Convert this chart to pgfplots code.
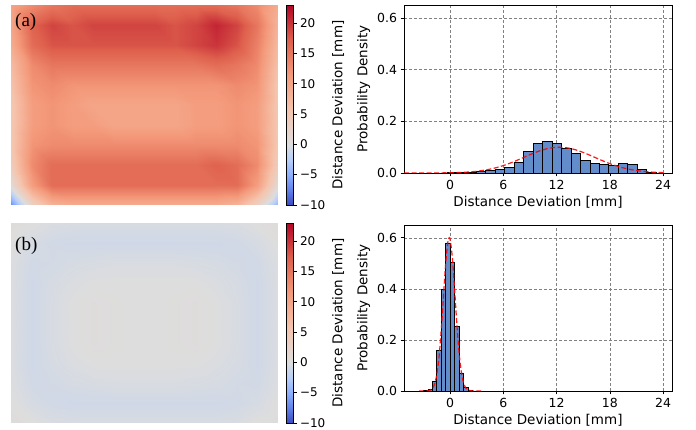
\documentclass[border=0pt]{standalone}
\usepackage{fontspec}
\usepackage{pgfplots}
\pgfplotsset{compat=1.18}
\newfontfamily\dejavu{DejaVu Sans}
\newfontfamily\tnr{Liberation Serif}
\definecolor{barblue}{RGB}{99,141,202}

\pgfplotsset{
  colormap={cw}{rgb255(0pt)=(59,76,192) rgb255(10pt)=(98,130,234) rgb255(20pt)=(141,176,254)
    rgb255(30pt)=(184,208,249) rgb255(40pt)=(221,221,221) rgb255(63pt)=(245,196,173)
    rgb255(86pt)=(244,154,123) rgb255(109pt)=(222,96,77) rgb255(132pt)=(180,4,38)},
  heat/.style={
    scale only axis, width=267pt, height=200pt, anchor=south west,
    view={0}{90}, xmin=0, xmax=13, ymin=0, ymax=10, hide axis,
    colormap name=cw, point meta min=-10, point meta max=23,
    colorbar, colorbar shift/.style={xshift=8pt},
    colorbar style={
      at={(parent axis.north east)}, anchor=north west,
      scale only axis, width=7pt, height=200pt,
      ytick={-10,-5,0,5,10,15,20},
      yticklabels={−10,−5,0,5,10,15,20},
      ytick pos=right, yticklabel pos=right,
      tick align=outside, major tick length=3.5pt,
      tick style={black, line width=0.6pt},
      yticklabel style={font=\dejavu\fontsize{12}{12}\selectfont},
      ylabel={Distance Deviation [mm]},
      ylabel style={font=\dejavu\fontsize{13.5}{13.5}\selectfont},
      axis line style={line width=0.6pt},
    },
  },
  hist/.style={
    scale only axis, width=268pt, anchor=south west,
    xmin=-5.2, xmax=25, ymin=0, ymax=0.65,
    xtick={0,6,12,18,24}, ytick={0,0.2,0.4,0.6},
    yticklabel style={/pgf/number format/fixed, /pgf/number format/fixed zerofill,
      /pgf/number format/precision=1},
    /pgf/number format/assume math mode=true,
    tick label style={font=\dejavu\fontsize{12.5}{12.5}\selectfont},
    label style={font=\dejavu\fontsize{13.5}{13.5}\selectfont},
    xlabel={Distance Deviation [mm]}, ylabel={Probability Density},
    grid=major, grid style={densely dashed, gray, line width=0.5pt},
    xtick pos=left, ytick pos=left, tick align=outside, major tick length=3.5pt,
    tick style={black, line width=0.6pt},
    axis line style={line width=0.8pt},
  },
  bars/.style={ybar interval, fill=barblue, draw=black, line width=0.7pt},
  fit/.style={red, dash pattern=on 5pt off 2.5pt, line width=1.2pt, opacity=0.9, smooth},
}

\begin{document}
\begin{tikzpicture}
\useasboundingbox (0,0) rectangle (696pt,430pt);

% (a) heatmap
\begin{axis}[heat, at={(11pt,225pt)}]
\addplot3[surf, shader=interp, mesh/rows=11] coordinates {
(0,10,10) (1,10,13) (2,10,15) (3,10,16) (4,10,16) (5,10,16) (6,10,16) (7,10,16) (8,10,16) (9,10,16) (10,10,16) (11,10,15) (12,10,13) (13,10,9)
(0,9,10) (1,9,17) (2,9,19) (3,9,18) (4,9,19) (5,9,19) (6,9,19) (7,9,19) (8,9,18) (9,9,19) (10,9,21) (11,9,19) (12,9,15) (13,9,8)
(0,8,9) (1,8,16) (2,8,18) (3,8,18) (4,8,18) (5,8,18) (6,8,18) (7,8,18) (8,8,18) (9,8,19) (10,8,20) (11,8,18) (12,8,14) (13,8,7)
(0,7,7) (1,7,13) (2,7,15) (3,7,15) (4,7,15) (5,7,15) (6,7,15) (7,7,15) (8,7,15) (9,7,15) (10,7,16) (11,7,15) (12,7,13) (13,7,6)
(0,6,6) (1,6,12) (2,6,13) (3,6,12) (4,6,12) (5,6,12) (6,6,12) (7,6,12) (8,6,12) (9,6,12) (10,6,12) (11,6,13) (12,6,12) (13,6,5)
(0,5,5) (1,5,11) (2,5,12) (3,5,11) (4,5,10) (5,5,10) (6,5,10) (7,5,10) (8,5,10) (9,5,11) (10,5,11) (11,5,12) (12,5,11) (13,5,5)
(0,4,5) (1,4,11) (2,4,12) (3,4,11) (4,4,11) (5,4,10) (6,4,10) (7,4,10) (8,4,10) (9,4,11) (10,4,11) (11,4,12) (12,4,11) (13,4,5)
(0,3,5) (1,3,12) (2,3,13) (3,3,13) (4,3,13) (5,3,13) (6,3,13) (7,3,13) (8,3,13) (9,3,13) (10,3,13) (11,3,13) (12,3,12) (13,3,5)
(0,2,4) (1,2,13) (2,2,16) (3,2,16) (4,2,16) (5,2,16) (6,2,16) (7,2,16) (8,2,16) (9,2,16) (10,2,17) (11,2,16) (12,2,13) (13,2,4)
(0,1,1) (1,1,11) (2,1,16) (3,1,16) (4,1,16) (5,1,16) (6,1,16) (7,1,16) (8,1,16) (9,1,16) (10,1,16) (11,1,16) (12,1,11) (13,1,1)
(0,0,-7) (1,0,3) (2,0,8) (3,0,9) (4,0,9) (5,0,9) (6,0,9) (7,0,9) (8,0,9) (9,0,9) (10,0,9) (11,0,8) (12,0,3) (13,0,-5)
};
\end{axis}

% (b) heatmap
\begin{axis}[heat, at={(11pt,7pt)}]
\addplot3[surf, shader=interp, mesh/rows=11] coordinates {
(0,10,0.3) (1,10,0.1) (2,10,-0.3) (3,10,-0.4) (4,10,-0.4) (5,10,-0.4) (6,10,-0.4) (7,10,-0.4) (8,10,-0.4) (9,10,-0.4) (10,10,-0.4) (11,10,-0.3) (12,10,0.1) (13,10,0.3)
(0,9,0.1) (1,9,-0.5) (2,9,-0.8) (3,9,-0.9) (4,9,-0.9) (5,9,-0.9) (6,9,-0.9) (7,9,-0.9) (8,9,-0.9) (9,9,-0.9) (10,9,-0.9) (11,9,-0.8) (12,9,-0.5) (13,9,0.1)
(0,8,-0.1) (1,8,-0.8) (2,8,-0.7) (3,8,-0.5) (4,8,-0.4) (5,8,-0.3) (6,8,-0.3) (7,8,-0.3) (8,8,-0.3) (9,8,-0.4) (10,8,-0.5) (11,8,-0.7) (12,8,-0.8) (13,8,-0.1)
(0,7,-0.2) (1,7,-0.9) (2,7,-0.5) (3,7,-0.2) (4,7,0) (5,7,0) (6,7,0) (7,7,0) (8,7,0) (9,7,0) (10,7,-0.2) (11,7,-0.5) (12,7,-0.9) (13,7,-0.2)
(0,6,-0.2) (1,6,-0.9) (2,6,-0.4) (3,6,0) (4,6,0.2) (5,6,0.1) (6,6,0) (7,6,0) (8,6,0.1) (9,6,0.2) (10,6,0) (11,6,-0.4) (12,6,-0.9) (13,6,-0.2)
(0,5,-0.2) (1,5,-0.9) (2,5,-0.4) (3,5,0) (4,5,0.2) (5,5,0.1) (6,5,0) (7,5,0) (8,5,0.1) (9,5,0.2) (10,5,0) (11,5,-0.4) (12,5,-0.9) (13,5,-0.2)
(0,4,-0.2) (1,4,-0.9) (2,4,-0.4) (3,4,0) (4,4,0.2) (5,4,0.1) (6,4,0) (7,4,0) (8,4,0.1) (9,4,0.2) (10,4,0) (11,4,-0.4) (12,4,-0.9) (13,4,-0.2)
(0,3,-0.2) (1,3,-0.9) (2,3,-0.5) (3,3,-0.2) (4,3,0) (5,3,0) (6,3,0) (7,3,0) (8,3,0) (9,3,0) (10,3,-0.2) (11,3,-0.5) (12,3,-0.9) (13,3,-0.2)
(0,2,-0.1) (1,2,-0.8) (2,2,-0.7) (3,2,-0.5) (4,2,-0.4) (5,2,-0.3) (6,2,-0.3) (7,2,-0.3) (8,2,-0.3) (9,2,-0.4) (10,2,-0.5) (11,2,-0.7) (12,2,-0.8) (13,2,-0.1)
(0,1,0.1) (1,1,-0.5) (2,1,-0.8) (3,1,-0.9) (4,1,-0.9) (5,1,-0.9) (6,1,-0.9) (7,1,-0.9) (8,1,-0.9) (9,1,-0.9) (10,1,-0.9) (11,1,-0.8) (12,1,-0.5) (13,1,0.1)
(0,0,0.3) (1,0,0.1) (2,0,-0.3) (3,0,-0.4) (4,0,-0.4) (5,0,-0.4) (6,0,-0.4) (7,0,-0.4) (8,0,-0.4) (9,0,-0.4) (10,0,-0.4) (11,0,-0.3) (12,0,0.1) (13,0,0.3)
};
\end{axis}

% (a) histogram
\begin{axis}[hist, at={(404pt,257pt)}, height=168pt]
\addplot[bars] coordinates {
 (-0.274,0.001) (0.794,0.001) (1.862,0.002) (2.930,0.005) (3.998,0.009) (5.066,0.014)
 (6.134,0.022) (7.202,0.041) (8.270,0.082) (9.338,0.114) (10.406,0.122) (11.474,0.113)
 (12.542,0.096) (13.610,0.0745) (14.678,0.050) (15.746,0.036) (16.814,0.032) (17.882,0.0295)
 (18.950,0.0385) (20.018,0.0347) (21.086,0.014) (22.154,0.003) (23.222,0.003)
};
\addplot[fit] coordinates {
 (-5.2,0.00001) (-2,0.0002) (0,0.0009) (1,0.0018) (2,0.0036) (3,0.0067) (4,0.0116) (5,0.0189)
 (6,0.0288) (7,0.0414) (8,0.0559) (9,0.0710) (10,0.0845) (11,0.0946) (12,0.0994) (13,0.0982)
 (14,0.0911) (15,0.0794) (16,0.0650) (17,0.0500) (18,0.0361) (19,0.0245) (20,0.0157)
 (21,0.0094) (22,0.0053) (23,0.0028) (24,0.0014)
};
\end{axis}

% (b) histogram
\begin{axis}[hist, at={(404pt,39pt)}, height=166pt]
\addplot[bars] coordinates {
 (-3.0,0.001) (-2.5,0.005) (-2.0,0.038) (-1.5,0.158) (-1.0,0.398) (-0.5,0.580)
 (0.0,0.502) (0.5,0.252) (1.0,0.071) (1.5,0.013) (2.0,0.002) (2.5,0.0005) (3.0,0)
};
\addplot[fit] coordinates {
 (-3.5,0) (-3,0.00004) (-2.5,0.0009) (-2.25,0.0032) (-2,0.0101) (-1.75,0.0276) (-1.5,0.0654)
 (-1.25,0.134) (-1,0.240) (-0.75,0.372) (-0.5,0.501) (-0.25,0.585) (-0.1,0.600) (0,0.593)
 (0.25,0.522) (0.5,0.399) (0.75,0.265) (1,0.153) (1.25,0.0763) (1.5,0.0332) (1.75,0.0125)
 (2,0.0041) (2.5,0.0003) (3,0) (3.5,0)
};
\end{axis}

\node[anchor=base west, inner sep=0pt, font=\tnr\fontsize{19}{19}\selectfont] at (15pt,403pt) {(a)};
\node[anchor=base west, inner sep=0pt, font=\tnr\fontsize{19}{19}\selectfont] at (15pt,179pt) {(b)};
\end{tikzpicture}
\end{document}
